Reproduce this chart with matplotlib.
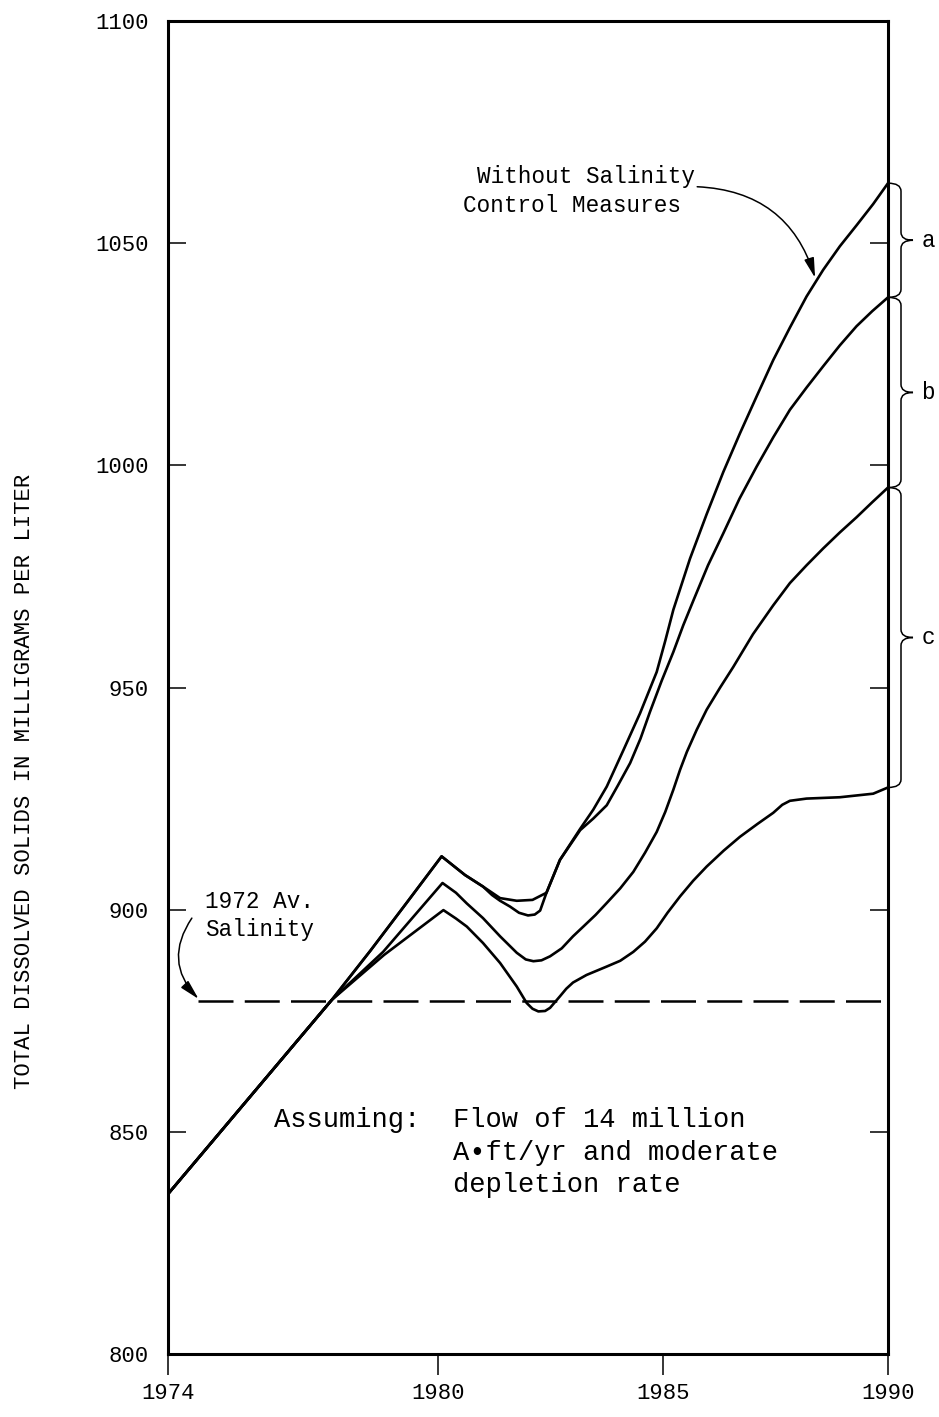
import matplotlib
matplotlib.use("Agg")
import matplotlib.pyplot as plt
from matplotlib.path import Path
from matplotlib.patches import PathPatch
import matplotlib.transforms as mtransforms

# Projected salinity, curve without salinity control (top, "a" starts here)
years_a = [1974.0, 1977.64, 1978.5, 1979.3, 1980.08, 1980.6, 1981.0, 1981.38, 1981.75,
           1982.1, 1982.41, 1982.71, 1983.16, 1983.45, 1983.75, 1984.12, 1984.49, 1984.86,
           1985.05, 1985.23, 1985.6, 1985.97, 1986.34, 1986.71, 1987.08, 1987.45, 1987.82,
           1988.19, 1988.56, 1988.93, 1989.3, 1989.67, 1990.0]
vals_a = [836, 879.7, 890.8, 901.5, 912, 907.8, 905.2, 902.6, 902.0,
          902.2, 903.8, 911.2, 918.2, 922.5, 927.7, 935.9, 944.2, 953.5,
          960.5, 967.5, 979, 989, 998.5, 1007.2, 1015.5, 1023.7, 1031,
          1038, 1044, 1049.3, 1054, 1058.8, 1063.5]

years_b = [1974.0, 1977.64, 1978.5, 1979.3, 1980.08, 1980.6, 1981.0, 1981.2, 1981.38,
           1981.6, 1981.8, 1982.0, 1982.15, 1982.27, 1982.41, 1982.71, 1983.16, 1983.45,
           1983.75, 1984.0, 1984.27, 1984.5, 1984.71, 1984.97, 1985.23, 1985.45, 1985.68,
           1986.0, 1986.34, 1986.7, 1987.08, 1987.45, 1987.82, 1988.19, 1988.56, 1988.93,
           1989.3, 1989.65, 1990.0]
vals_b = [836, 879.7, 890.8, 901.5, 912, 907.8, 905.2, 903.3, 902.0,
          900.7, 899.3, 898.7, 898.9, 899.8, 903.8, 911.2, 917.9, 920.5,
          923.5, 928, 933, 938.5, 944.5, 951.5, 958, 964, 969.7,
          977.5, 984.7, 992.5, 999.7, 1006.3, 1012.5, 1017.5, 1022.3, 1027,
          1031.3, 1034.7, 1037.8]

years_c = [1974.0, 1977.64, 1978.78, 1980.1, 1980.4, 1980.64, 1981.0, 1981.38, 1981.75,
           1981.95, 1982.12, 1982.3, 1982.49, 1982.75, 1983.0, 1983.23, 1983.5, 1983.75,
           1984.05, 1984.34, 1984.6, 1984.86, 1985.05, 1985.23, 1985.38, 1985.53, 1985.75,
           1985.97, 1986.27, 1986.56, 1987.0, 1987.45, 1987.82, 1988.19, 1988.56, 1988.93,
           1989.3, 1989.65, 1990.0]
vals_c = [836, 879.7, 890.5, 906, 903.8, 901.4, 898.1, 894.0, 890.3,
          888.8, 888.4, 888.6, 889.5, 891.3, 894.0, 896.2, 898.8, 901.5,
          904.8, 908.5, 912.8, 917.5, 922, 927, 931.5, 935.5, 940.5,
          945, 950, 954.6, 962, 968.5, 973.5, 977.5, 981.3, 984.9,
          988.3, 991.7, 995]

years_d = [1974.0, 1977.64, 1978.8, 1980.12, 1980.4, 1980.64, 1981.0, 1981.38, 1981.75,
           1981.97, 1982.1, 1982.23, 1982.38, 1982.49, 1982.6, 1982.71, 1982.85, 1983.0,
           1983.3, 1983.75, 1984.05, 1984.34, 1984.6, 1984.86, 1985.1, 1985.38, 1985.67,
           1985.97, 1986.35, 1986.71, 1987.1, 1987.45, 1987.65, 1987.82, 1988.19, 1988.93,
           1989.67, 1990.0]
vals_d = [836, 879.7, 889.8, 899.9, 898.0, 896.2, 892.5, 888.0, 882.7,
          879.0, 877.7, 877.1, 877.2, 877.9, 879.2, 880.5, 882.2, 883.6,
          885.3, 887.2, 888.5, 890.5, 892.8, 895.8, 899.3, 903.0, 906.5,
          909.7, 913.3, 916.4, 919.3, 921.8, 923.6, 924.5, 925.0, 925.3,
          926.1, 927.5]

salinity_1972 = 879.5
dash_years = [1974.67, 1990.0]

brace_ranges = [(1063.5, 1037.8, "a"), (1037.8, 995, "b"), (995, 927.5, "c")]

x_ticks = [1974, 1980, 1985, 1990]
y_ticks = [800, 850, 900, 950, 1000, 1050, 1100]

mono = ["Liberation Mono", "DejaVu Sans Mono"]
plt.rcParams["font.family"] = mono

fig = plt.figure(figsize=(9.39, 14.17), dpi=100)
ax = fig.add_axes([168 / 939, 1 - 1354 / 1417, 720 / 939, 1333 / 1417])

for yrs, vals in [(years_a, vals_a), (years_b, vals_b), (years_c, vals_c), (years_d, vals_d)]:
    ax.plot(yrs, vals, color="black", lw=1.9, solid_joinstyle="round", solid_capstyle="round")

# 1972 average salinity line
ax.plot(dash_years, [salinity_1972] * 2, color="black", lw=1.8, dashes=(14, 4.5))

ax.set_xlim(1974, 1990)
ax.set_ylim(800, 1100)
ax.set_xticks(x_ticks)
ax.set_yticks(y_ticks)
ax.tick_params(axis="y", direction="in", length=13, width=1.1, labelsize=16, pad=14,
               right=True, left=True)
ax.tick_params(axis="x", direction="out", length=15, width=1.1, labelsize=16, pad=6)
for sp in ax.spines.values():
    sp.set_linewidth(2.2)

fig.text(25 / 939, 1 - 781 / 1417, "TOTAL DISSOLVED SOLIDS IN MILLIGRAMS PER LITER",
         rotation=90, ha="center", va="center", fontsize=16)

# annotations
ax.text(1980.87, 1063.5, "Without Salinity", fontsize=16.3, va="baseline")
ax.text(1980.56, 1057.0, "Control Measures", fontsize=16.3, va="baseline")
ax.annotate("", xy=(1988.38, 1042.2), xytext=(1985.76, 1062.7),
            arrowprops=dict(arrowstyle="-|>,head_length=1.0,head_width=0.25", color="black",
                            lw=1.1, connectionstyle="arc3,rad=-0.35", shrinkA=0, shrinkB=0,
                            mutation_scale=12))

ax.text(1974.82, 900.4, "1972 Av.", fontsize=16.3, va="baseline")
ax.text(1974.82, 894.1, "Salinity", fontsize=16.3, va="baseline")
ax.annotate("", xy=(1974.68, 879.9), xytext=(1974.53, 898.1),
            arrowprops=dict(arrowstyle="-|>,head_length=1.0,head_width=0.25", color="black",
                            lw=1.1, connectionstyle="arc3,rad=0.4", shrinkA=0, shrinkB=0,
                            mutation_scale=12))

ax.text(1976.36, 851.2, "Assuming:", fontsize=19.5, va="baseline")
ax.text(1980.33, 851.2, "Flow of 14 million", fontsize=19.5, va="baseline")
ax.text(1980.33, 843.7, "A\u2022ft/yr and moderate", fontsize=19.5, va="baseline")
ax.text(1980.33, 836.4, "depletion rate", fontsize=19.5, va="baseline")

# curly braces to the right of the 1990 values
trans = mtransforms.blended_transform_factory(ax.transAxes, ax.transData)
x0, x1, x2 = 1.0, 1 + 13 / 720, 1 + 25 / 720
r = 1.8
for top, bot, lab in brace_ranges:
    mid = (top + bot) / 2
    verts = [(x0, top), (x1, top), (x1, top - r), (x1, mid + r), (x1, mid), (x2, mid),
             (x1, mid), (x1, mid - r), (x1, bot + r), (x1, bot), (x0, bot)]
    codes = [Path.MOVETO, Path.CURVE3, Path.CURVE3, Path.LINETO, Path.CURVE3, Path.CURVE3,
             Path.CURVE3, Path.CURVE3, Path.LINETO, Path.CURVE3, Path.CURVE3]
    ax.add_patch(PathPatch(Path(verts, codes), transform=trans, fill=False, lw=1.1,
                           edgecolor="black", clip_on=False))
    ax.text(1 + 40 / 720, mid, lab, transform=trans, fontsize=16.3, ha="center", va="center")

fig.savefig("out.png", dpi=100)
